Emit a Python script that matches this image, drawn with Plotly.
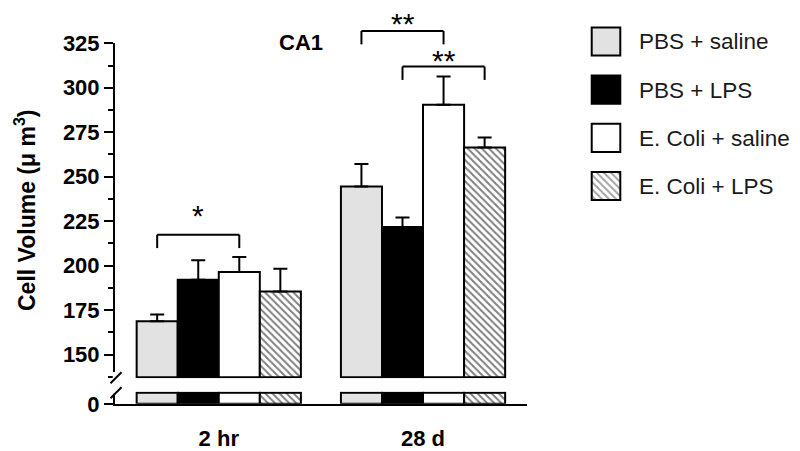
import plotly.graph_objects as go

# --- data -------------------------------------------------------------
TIMEPOINTS = ["2 hr", "28 d"]
GROUPS = ["PBS + saline", "PBS + LPS", "E. Coli + saline", "E. Coli + LPS"]

pbs_saline = [168.7, 244.5]
pbs_saline_sem = [3.8, 12.7]
pbs_lps = [192.1, 221.7]
pbs_lps_sem = [10.9, 5.4]
ecoli_saline = [196.4, 290.4]
ecoli_saline_sem = [8.5, 15.9]
ecoli_lps = [185.5, 266.4]
ecoli_lps_sem = [12.8, 5.6]

# significance brackets: timepoint, left bar, right bar, bracket height, label
sig_timepoint = [0, 1, 1]
sig_left = [0, 0, 1]
sig_right = [2, 2, 3]
sig_height = [217.4, 331.9, 311.9]
sig_label_height = [230.5, 338.5, 317.5]
sig_label = ["*", "**", "**"]

# --- style ------------------------------------------------------------
W, H = 800, 451
FONT = "Liberation Sans, Arial, sans-serif"
FILLS = ["#e2e2e2", "#000000", "#ffffff", "#ffffff"]
HATCH = ["", "", "", "\\"]
BARGAP = 0.196
UP_RANGE = [136.7, 325]
UP_BASE = 137.3
LOW_CAP = 10


def px_x(p):
    return p / W


def px_y(p):
    return (H - p) / H


UP_DOM = [px_y(378.3), px_y(43.3)]
LOW_DOM = [px_y(403.8), px_y(391.6)]
X_DOM = [px_x(115), px_x(527)]


def up_paper(v):
    return UP_DOM[0] + (v - UP_RANGE[0]) / (UP_RANGE[1] - UP_RANGE[0]) * (UP_DOM[1] - UP_DOM[0])


def bar_center(t, i):
    w = (1 - BARGAP) / len(GROUPS)
    return t - (1 - BARGAP) / 2 + w * (i + 0.5)


series = [
    (GROUPS[0], pbs_saline, pbs_saline_sem),
    (GROUPS[1], pbs_lps, pbs_lps_sem),
    (GROUPS[2], ecoli_saline, ecoli_saline_sem),
    (GROUPS[3], ecoli_lps, ecoli_lps_sem),
]

hatch = dict(shape=HATCH, fgcolor="black", bgcolor="white", size=5, solidity=0.4)

fig = go.Figure()
for i, (name, mean, sem) in enumerate(series):
    marker = dict(color=FILLS[i], line=dict(color="black", width=2),
                  pattern=dict(hatch, shape=HATCH[i]))
    fig.add_trace(go.Bar(
        x=TIMEPOINTS, y=[v - UP_BASE for v in mean], base=UP_BASE, name=name,
        marker=marker, xaxis="x2", yaxis="y2", showlegend=False,
        error_y=dict(type="data", symmetric=False, array=sem, arrayminus=[0] * len(sem),
                     color="black", thickness=2, width=7),
    ))
    fig.add_trace(go.Bar(
        x=TIMEPOINTS, y=[min(v, LOW_CAP) for v in mean], name=name,
        marker=marker, xaxis="x", yaxis="y", showlegend=False,
    ))

# legend drawn as a small bar panel
fig.add_trace(go.Bar(
    y=GROUPS, x=[1] * len(GROUPS), orientation="h", xaxis="x3", yaxis="y3",
    showlegend=False, width=0.583,
    marker=dict(color=FILLS, line=dict(color="black", width=2), pattern=hatch),
))

axis_common = dict(showgrid=False, zeroline=False, linecolor="black", linewidth=2,
                   tickcolor="black", automargin=False)

fig.update_layout(
    width=W, height=H, autosize=False,
    margin=dict(l=0, r=0, t=0, b=0, pad=0),
    paper_bgcolor="white", plot_bgcolor="white",
    font=dict(family=FONT, color="black"),
    barmode="group", bargap=BARGAP, bargroupgap=0,
    xaxis=dict(domain=X_DOM, anchor="y", range=[-0.508, 1.509], type="category",
               showline=True, ticks="", ticklabelstandoff=14,
               tickfont=dict(size=22, weight="bold"), **axis_common),
    yaxis=dict(domain=LOW_DOM, anchor="x", range=[0, 11], tickvals=[0], ticktext=["0"],
               showline=True, ticks="outside", ticklen=9, tickwidth=2,
               tickfont=dict(size=22, weight="bold"), **axis_common),
    xaxis2=dict(domain=X_DOM, anchor="y2", matches="x", type="category",
                visible=False, automargin=False),
    yaxis2=dict(domain=UP_DOM, anchor="x2", range=UP_RANGE, tick0=0, dtick=25,
                showline=True, ticks="outside", ticklen=9, tickwidth=2,
                minor=dict(tick0=0, dtick=12.5, ticks="outside", ticklen=5,
                           tickwidth=1.5, tickcolor="black"),
                tickfont=dict(size=22, weight="bold"), **axis_common),
    xaxis3=dict(domain=[px_x(590), px_x(622)], anchor="y3", range=[-0.06, 1.06],
                visible=False, automargin=False),
    yaxis3=dict(domain=[px_y(210.1), px_y(17.4)], anchor="x3", side="right",
                type="category", range=[len(GROUPS) - 0.5, -0.5], ticks="",
                showline=False, showgrid=False, zeroline=False, automargin=False,
                ticklabelstandoff=16, tickfont=dict(size=22.5, color="#1a1a1a")),
)

# axis break marks
shapes = []
for y0, y1 in [(372.0, 379.5), (390.0, 393.8)]:
    shapes.append(dict(type="line", xref="paper", yref="paper",
                       x0=px_x(115.2), x1=px_x(115.2), y0=px_y(y0), y1=px_y(y1),
                       line=dict(color="white", width=5)))
for y0 in [383.3, 398.3]:
    shapes.append(dict(type="line", xref="paper", yref="paper",
                       x0=px_x(110.5), x1=px_x(121.5), y0=px_y(y0), y1=px_y(y0 - 11),
                       line=dict(color="black", width=2)))

# significance brackets
annotations = []
for t, a, b, h, lh, lab in zip(sig_timepoint, sig_left, sig_right, sig_height,
                               sig_label_height, sig_label):
    xa, xb = bar_center(t, a), bar_center(t, b)
    top, leg = up_paper(h), up_paper(h - 7.5)
    for x0, y0, x1, y1 in [(xa, leg, xa, top), (xa, top, xb, top), (xb, top, xb, leg)]:
        shapes.append(dict(type="line", xref="x2", yref="paper", x0=x0, y0=y0, x1=x1, y1=y1,
                           line=dict(color="black", width=2)))
    annotations.append(dict(x=(xa + xb) / 2, y=up_paper(lh), xref="x2", yref="paper",
                            text=lab, showarrow=False, yanchor="middle", yshift=-4,
                            font=dict(size=30, color="black")))

annotations.append(dict(x=px_x(300.5), y=px_y(28), xref="paper", yref="paper", text="CA1",
                        showarrow=False, font=dict(size=22, weight="bold")))
annotations.append(dict(x=px_x(8), y=px_y(210), xref="paper", yref="paper",
                        text="Cell Volume (\u03bc m<sup>3</sup>)", textangle=-90,
                        showarrow=False, font=dict(size=23, weight="bold")))

fig.update_layout(shapes=shapes, annotations=annotations)
fig.write_html("out.html", config={"displayModeBar": False},
               post_script="document.body.style.margin = '0px';")
